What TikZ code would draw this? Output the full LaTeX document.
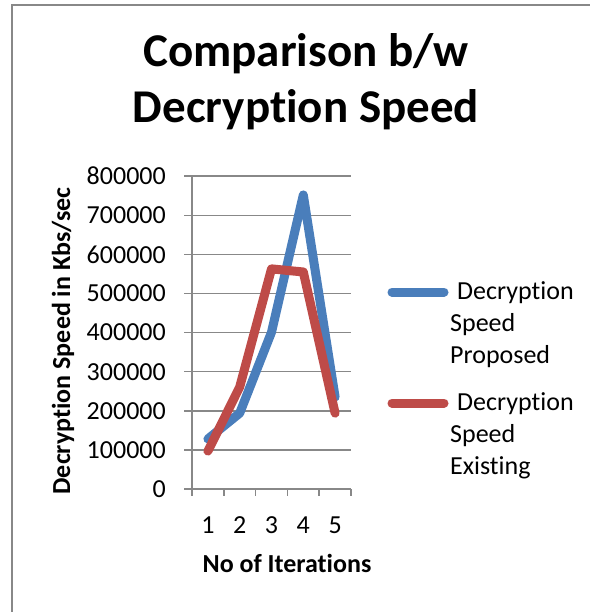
\documentclass[tikz,border=0pt]{standalone}
\usepackage{fontspec}
\setmainfont[Ligatures=NoCommon]{Carlito}
\usetikzlibrary{positioning}
\definecolor{gridgray}{HTML}{888888}
\definecolor{propblue}{HTML}{4A7EBB}
\definecolor{existred}{HTML}{BE4B48}

\begin{document}
\begin{tikzpicture}[x=1pt, y=-1pt,
    gridline/.style={gridgray, line width=1.5pt},
    series/.style={line width=9pt, line cap=round, line join=round},
    ticklabel/.style={font=\fontsize{26}{30}\selectfont, inner sep=0pt},
    axistitle/.style={font=\fontsize{26}{30}\selectfont\bfseries, inner sep=0pt},
    legendtext/.style={font=\fontsize{26}{32}\selectfont, align=left, inner sep=0pt},
    charttitle/.style={font=\fontsize{47}{57}\selectfont\bfseries, inner sep=0pt}]
    % Frame
    \useasboundingbox (0,0) rectangle (590,612);
    \draw[gridgray, line width=2pt] (12,612) -- (12,5) -- (590,5);

    % Title
    \node[charttitle, anchor=base] (TitleTop) at (306,67) {Comparison b/w};
    \node[charttitle, anchor=base] (TitleBottom) at (306,123) {Decryption Speed};

    % Plot area
    \begin{scope}[shift={(192,489)}, x=31.8pt, y=0.391pt]
        \foreach \v/\lab in {0/0, 100/100000, 200/200000, 300/300000, 400/400000,
                             500/500000, 600/600000, 700/700000, 800/800000} {
            \draw[gridline] ([xshift=-8pt]0,\v) -- (5,\v);
            \node[ticklabel, anchor=east] (YLab\v) at ([xshift=-26pt]0,\v) {\lab};
        }
        \draw[gridline] (0,0) -- (0,800);
        \foreach \i in {0,...,5}
            \draw[gridline] (\i,0) -- ([yshift=-7pt]\i,0);
        \foreach \i in {1,...,5}
            \node[ticklabel] (XLab\i) at ([yshift=-36pt]\i-0.5,0) {\i};

        % Data points
        \foreach \i/\b/\r in {1/128/97, 2/194/261, 3/401/563, 4/752/555, 5/235/194} {
            \coordinate (Prop\i) at (\i-0.5,\b);
            \coordinate (Exist\i) at (\i-0.5,\r);
        }
    \end{scope}

    % Series
    \draw[series, propblue] (Prop1) -- (Prop2) -- (Prop3) -- (Prop4) -- (Prop5);
    \draw[series, existred] (Exist1) -- (Exist2) -- (Exist3) -- (Exist4) -- (Exist5);

    % Axis titles
    \node[axistitle, rotate=90, anchor=base] (YTitle) at (70,341) {Decryption Speed in Kbs/sec};
    \node[axistitle, anchor=base] (XTitle) at (287,572) {No of Iterations};

    % Legend
    \coordinate (KeyPropA) at (392,292);
    \coordinate (KeyPropB) at (444,292);
    \coordinate (KeyExistA) at (392,403);
    \coordinate (KeyExistB) at (444,403);
    \draw[series, propblue] (KeyPropA) -- (KeyPropB);
    \draw[series, existred] (KeyExistA) -- (KeyExistB);
    \node[legendtext, anchor=north west] (LegProp) at (450,281) {\hspace*{7pt}Decryption\\Speed\\Proposed};
    \node[legendtext, anchor=north west] (LegExist) at (450,392) {\hspace*{7pt}Decryption\\Speed\\Existing};
\end{tikzpicture}
\end{document}
